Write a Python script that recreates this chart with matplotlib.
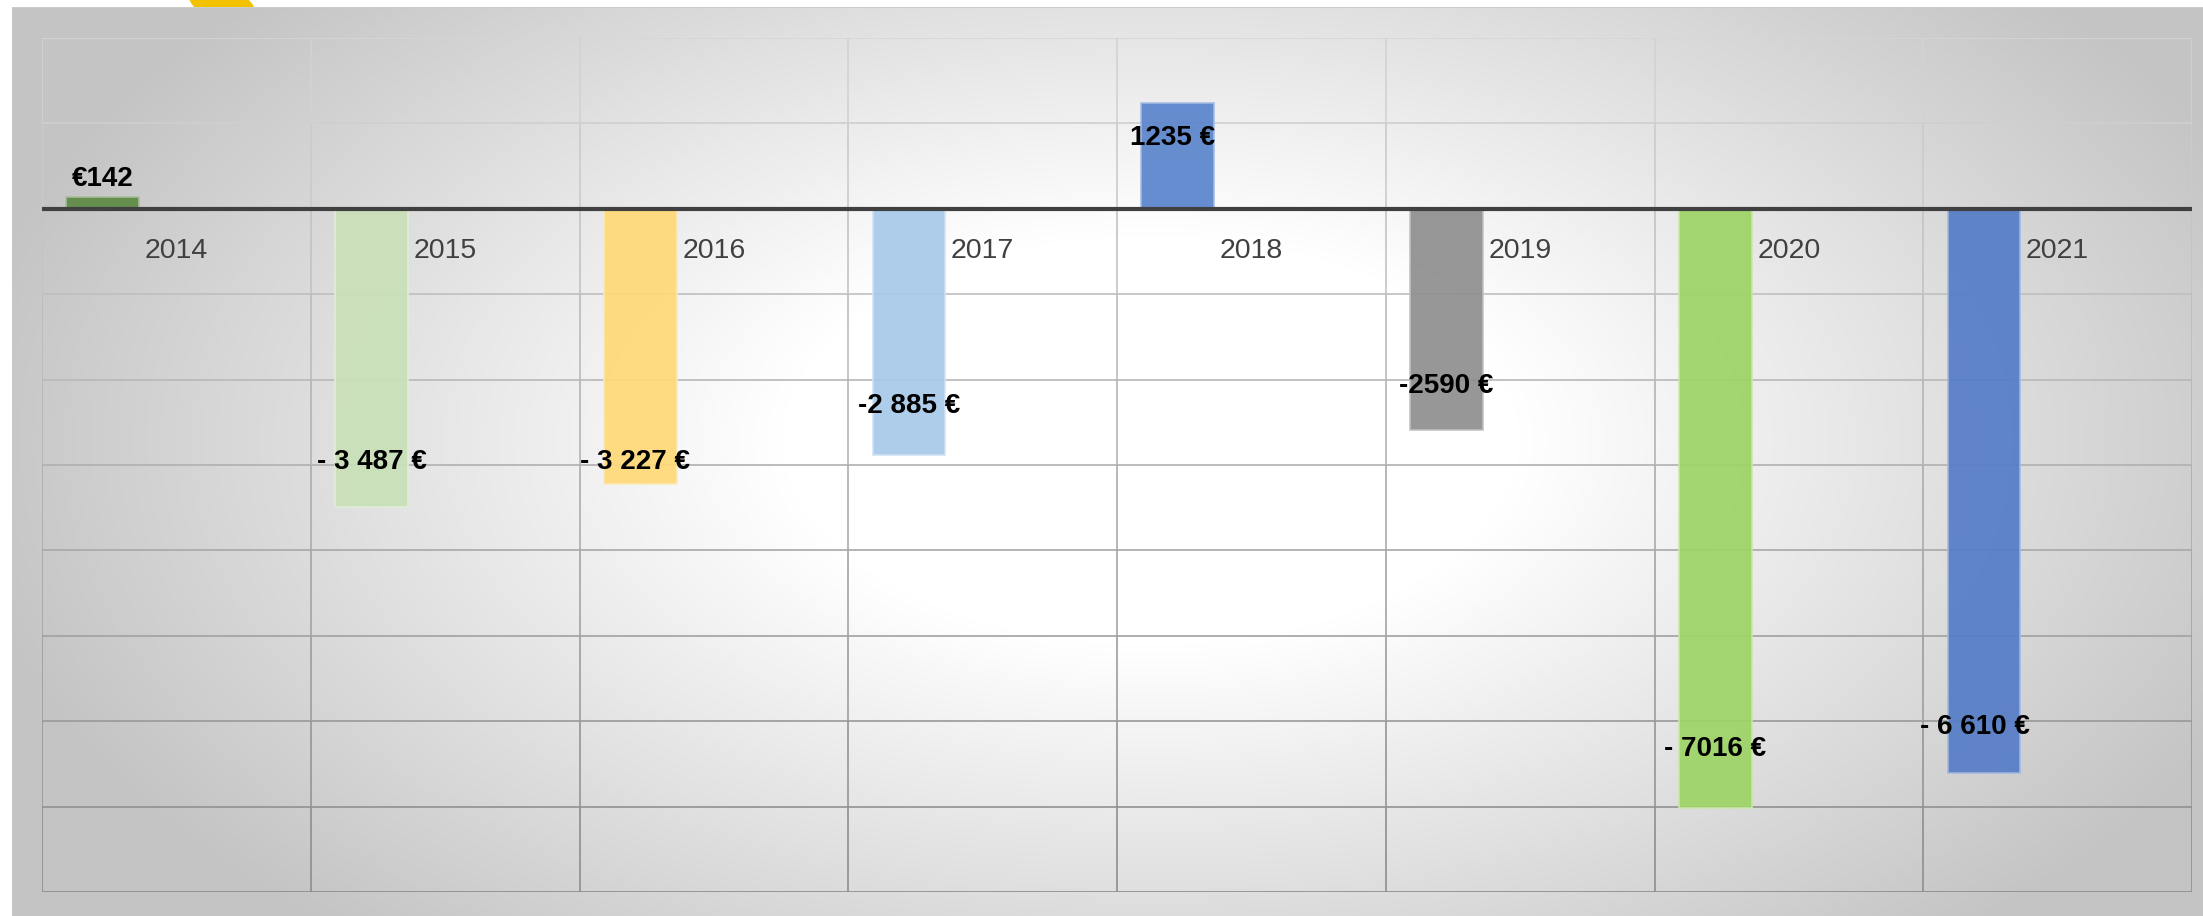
import matplotlib

matplotlib.use("Agg")
import matplotlib.pyplot as plt
import numpy as np
from matplotlib.collections import LineCollection
from matplotlib.colors import to_rgb
from matplotlib.patches import Ellipse, Rectangle

YEARS = ["2014", "2015", "2016", "2017", "2018", "2019", "2020", "2021"]
VALUES = [142, -3487, -3227, -2885, 1235, -2590, -7016, -6610]
VALUE_LABELS = ["€142", "- 3 487 €", "- 3 227 €", "-2 885 €", "1235 €", "-2590 €", "- 7016 €", "- 6 610 €"]
BAR_COLORS = ["#5f8b46", "#c9e0b8", "#ffd978", "#a8caea", "#5b85cc", "#8f8f8f", "#9dd466", "#567dc6"]

# manual data-label placement (Excel-style dragged labels), data units
LABEL_DX = [0.0, 0.0, -0.02, 0.0, -0.02, 0.0, 0.0, -0.035]
LABEL_DY = [208, 523, 263, 575, -407, 513, 692, 542]

W, H = 2203, 916
YLIM = (-8000, 2000)
BAR_OFFSET = 0.226
BAR_WIDTH = 0.27
FONT = "Liberation Sans"


def lighten(color, amount):
    c = np.array(to_rgb(color))
    return tuple(c + (1 - c) * amount)


def background():
    yy, xx = np.mgrid[0:H, 0:W]
    d = np.sqrt(((xx - 1150) / 1150.0) ** 2 + ((yy - 440) / 640.0) ** 2)
    t = np.clip((d - 0.32) / 0.72, 0, 1)
    g = 1.0 - t * 0.23
    img = np.dstack([g, g, g])
    img[:7, :] = 1.0
    img[:, :12] = 1.0
    img[7, 12:] = 0.80
    return img


def grid_color(y):
    t = (YLIM[1] - y) / (YLIM[1] - YLIM[0])
    g = 0.84 - 0.30 * t
    return (g, g, g)


def main() -> None:
    fig = plt.figure(figsize=(W / 100, H / 100), dpi=100)

    bg = fig.add_axes([0, 0, 1, 1])
    bg.imshow(background(), extent=(0, W, 0, H), origin="upper", zorder=1)
    # clipped yellow icon peeking over the top edge
    blob = Ellipse((222, 912), 66, 30, angle=-15, color="#f2c200", zorder=2)
    bg.add_patch(blob)
    blob.set_clip_path(Rectangle((0, H - 7), W, 7, transform=bg.transData))
    bg.set_xlim(0, W)
    bg.set_ylim(0, H)
    bg.axis("off")

    ax = fig.add_axes([42 / W, (H - 892) / H, (2192 - 42) / W, (892 - 38) / H])
    ax.patch.set_alpha(0)
    ax.set_xlim(0, len(YEARS))
    ax.set_ylim(*YLIM)
    for s in ax.spines.values():
        s.set_visible(False)
    ax.set_xticks([])
    ax.set_yticks([])

    ys = np.arange(YLIM[0], YLIM[1] + 1, 1000)
    for y in ys:
        ax.axhline(y, color=grid_color(y), lw=1.2, zorder=1)
    segs, cols = [], []
    for xv in range(len(YEARS) + 1):
        for y0, y1 in zip(ys[:-1], ys[1:]):
            segs.append([(xv, y0), (xv, y1)])
            cols.append(grid_color((y0 + y1) / 2))
    ax.add_collection(LineCollection(segs, colors=cols, linewidths=1.2, zorder=1))

    x = np.arange(len(YEARS))
    ax.bar(
        x + BAR_OFFSET,
        VALUES,
        BAR_WIDTH,
        color=BAR_COLORS,
        alpha=0.93,
        edgecolor=[lighten(c, 0.45) for c in BAR_COLORS],
        linewidth=1.2,
        zorder=3,
    )
    ax.axhline(0, color="#404040", lw=3, zorder=4)

    for i, year in enumerate(YEARS):
        ax.text(i + 0.5, -490, year, ha="center", va="center", fontsize=20.5,
                color="#404040", family=FONT, zorder=5)

    for i, (v, lab) in enumerate(zip(VALUES, VALUE_LABELS)):
        ax.text(i + BAR_OFFSET + LABEL_DX[i], v + LABEL_DY[i], lab, ha="center", va="center",
                fontsize=20, fontweight="bold", color="black", family=FONT, zorder=6)

    fig.savefig("out.png", dpi=100)


if __name__ == "__main__":
    main()
